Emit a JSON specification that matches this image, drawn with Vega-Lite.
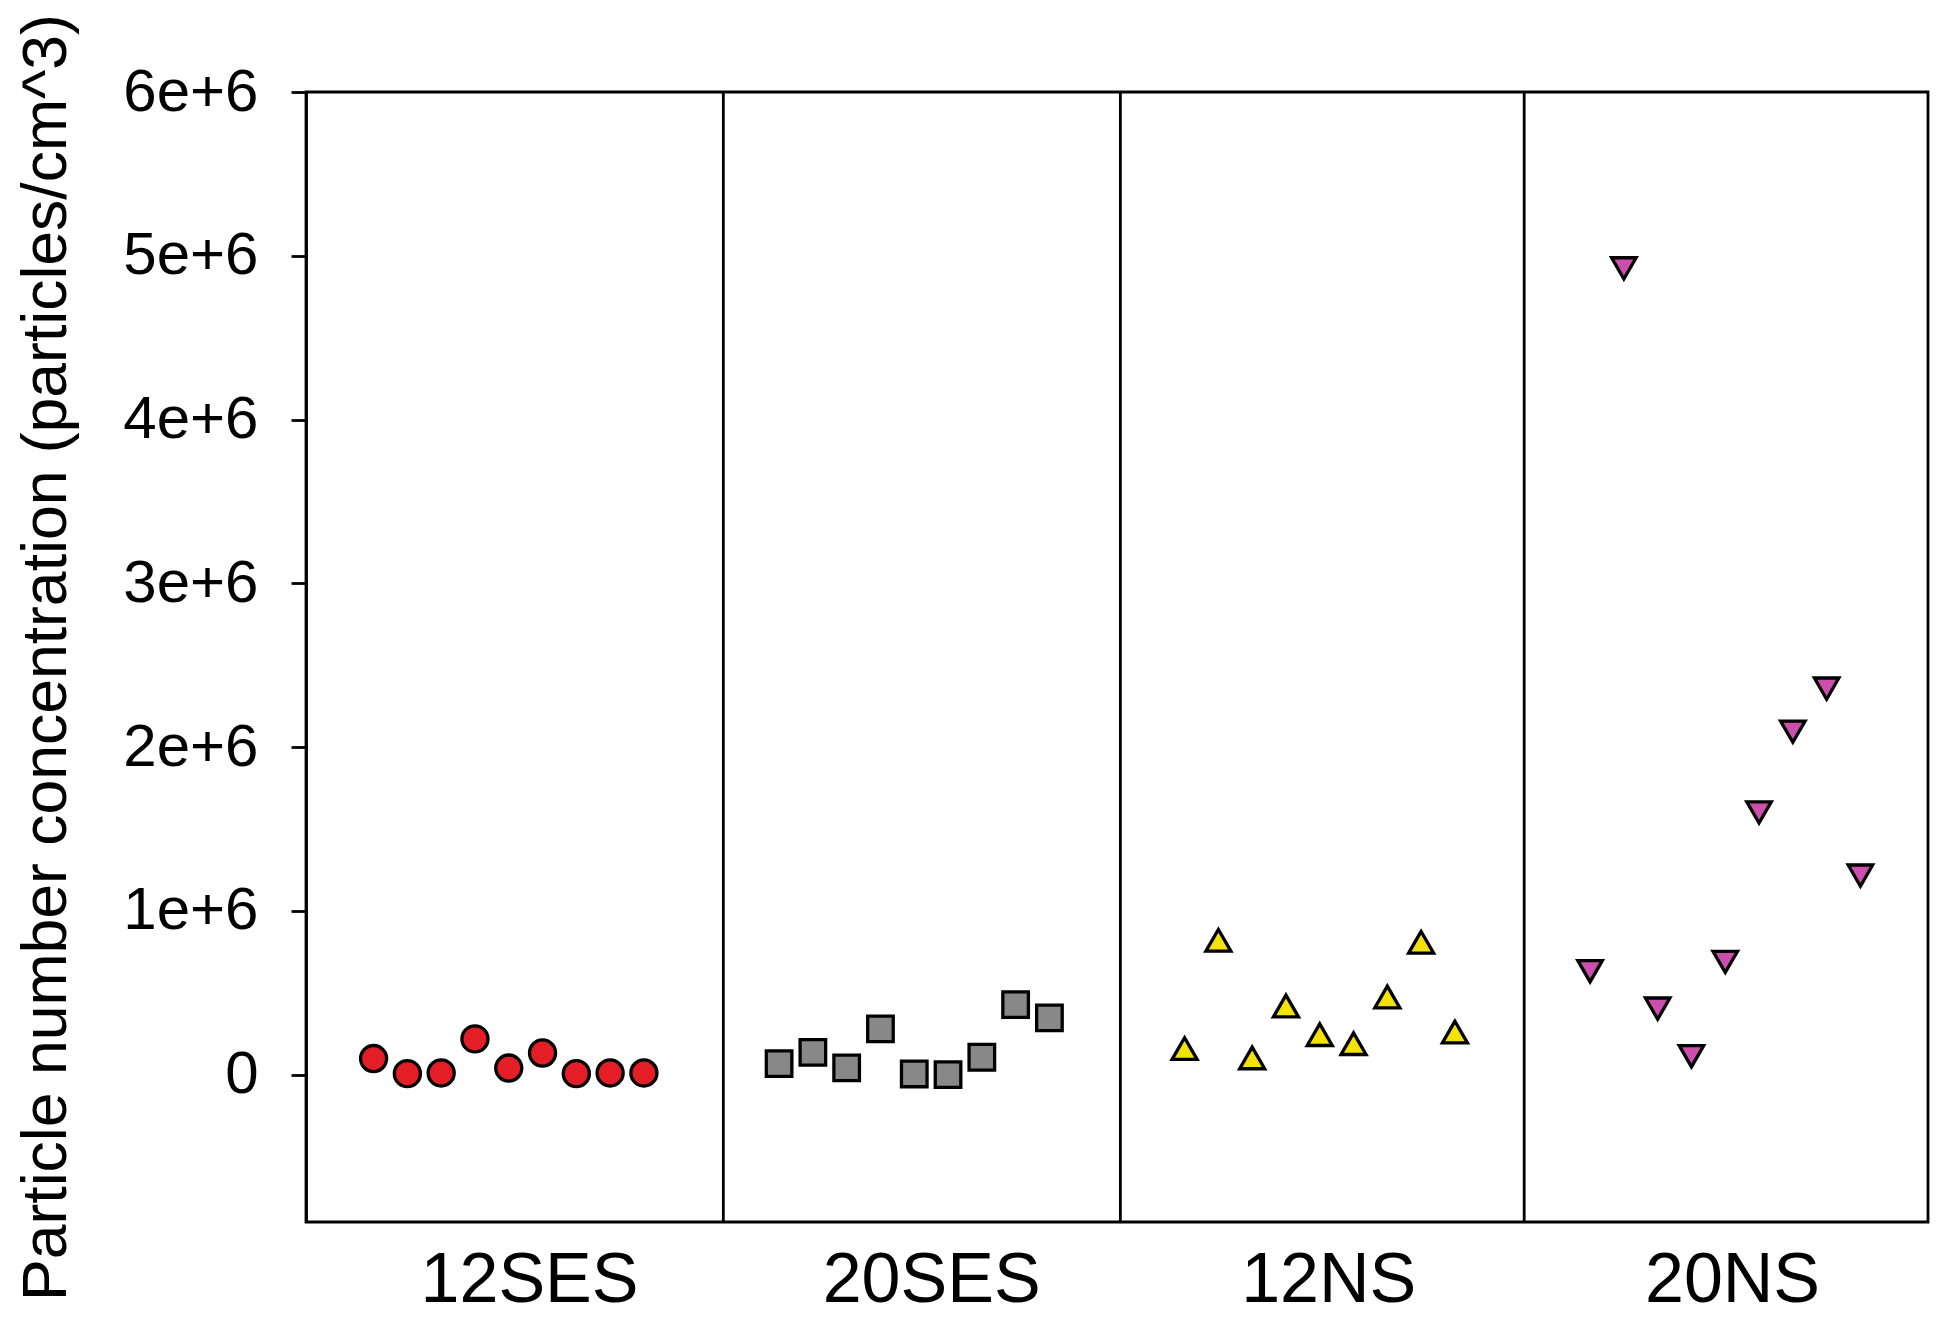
{
  "$schema": "https://vega.github.io/schema/vega-lite/v6.json",
  "width": 1622,
  "height": 1130,
  "autosize": {"type": "none"},
  "padding": {"left": 306, "top": 92, "right": 22, "bottom": 102},
  "background": "white",
  "config": {
    "view": {"stroke": "black", "strokeWidth": 2.8},
    "font": "Liberation Sans",
    "axis": {"labelFont": "Liberation Sans", "titleFont": "Liberation Sans", "labelColor": "black", "titleColor": "black", "grid": false, "domainColor": "black", "tickColor": "black", "labelLimit": 0}
  },
  "datasets": {
    "points": [
      {"group": "12SES", "idx": 2, "value": 98000},
      {"group": "12SES", "idx": 3, "value": 6000},
      {"group": "12SES", "idx": 4, "value": 10000},
      {"group": "12SES", "idx": 5, "value": 218000},
      {"group": "12SES", "idx": 6, "value": 40000},
      {"group": "12SES", "idx": 7, "value": 132000},
      {"group": "12SES", "idx": 8, "value": 6000},
      {"group": "12SES", "idx": 9, "value": 10000},
      {"group": "12SES", "idx": 10, "value": 10000},
      {"group": "20SES", "idx": 14, "value": 67000},
      {"group": "20SES", "idx": 15, "value": 136000},
      {"group": "20SES", "idx": 16, "value": 41000},
      {"group": "20SES", "idx": 17, "value": 279000},
      {"group": "20SES", "idx": 18, "value": 4000},
      {"group": "20SES", "idx": 19, "value": 0},
      {"group": "20SES", "idx": 20, "value": 106000},
      {"group": "20SES", "idx": 21, "value": 427000},
      {"group": "20SES", "idx": 22, "value": 346000},
      {"group": "12NS", "idx": 26, "value": 159000},
      {"group": "12NS", "idx": 27, "value": 820000},
      {"group": "12NS", "idx": 28, "value": 102000},
      {"group": "12NS", "idx": 29, "value": 419000},
      {"group": "12NS", "idx": 30, "value": 244000},
      {"group": "12NS", "idx": 31, "value": 189000},
      {"group": "12NS", "idx": 32, "value": 474000},
      {"group": "12NS", "idx": 33, "value": 808000},
      {"group": "12NS", "idx": 34, "value": 260000},
      {"group": "20NS", "idx": 38, "value": 631000},
      {"group": "20NS", "idx": 39, "value": 4923000},
      {"group": "20NS", "idx": 40, "value": 403000},
      {"group": "20NS", "idx": 41, "value": 112000},
      {"group": "20NS", "idx": 42, "value": 688000},
      {"group": "20NS", "idx": 43, "value": 1601000},
      {"group": "20NS", "idx": 44, "value": 2094000},
      {"group": "20NS", "idx": 45, "value": 2357000},
      {"group": "20NS", "idx": 46, "value": 1215000}
    ],
    "dividers": [
      {"pos": 12.35},
      {"pos": 24.1},
      {"pos": 36.05}
    ]
  },
  "encoding": {
    "x": {
      "type": "quantitative",
      "scale": {"domain": [0, 48], "nice": false, "zero": false},
      "axis": {
        "title": null,
        "values": [6.6, 18.5, 30.25, 42.2],
        "labelExpr": "datum.value < 12 ? '12SES' : datum.value < 24 ? '20SES' : datum.value < 36 ? '12NS' : '20NS'",
        "ticks": false,
        "domain": false,
        "labelFontSize": 70,
        "labelPadding": 24,
        "labelAlign": "center",
        "labelOverlap": false,
        "labelBound": false,
        "labelFlush": false,
        "labelLimit": 0
      }
    }
  },
  "layer": [
    {
      "data": {"name": "dividers"},
      "mark": {"type": "rule", "color": "black", "strokeWidth": 2.8},
      "encoding": {
        "x": {"field": "pos", "type": "quantitative"}
      }
    },
    {
      "data": {"name": "points"},
      "mark": {"type": "point", "filled": true, "stroke": "black", "strokeWidth": 3.3, "opacity": 1, "strokeOpacity": 1, "fillOpacity": 1},
      "encoding": {
        "x": {"field": "idx", "type": "quantitative"},
        "y": {
          "field": "value", "type": "quantitative",
          "scale": {"domain": [-900000, 6000000], "nice": false, "zero": false},
          "axis": {
            "title": "Particle number concentration (particles/cm^3)",
            "titleFontSize": 62.5,
            "titleFontWeight": "normal",
            "titlePadding": 44,
            "values": [0, 1000000, 2000000, 3000000, 4000000, 5000000, 6000000],
            "labelExpr": "datum.value === 0 ? '0' : format(datum.value / 1000000, 'd') + 'e+6'",
            "labelFontSize": 60,
            "labelPadding": 33,
            "tickSize": 15,
            "tickWidth": 2.8,
            "domainWidth": 2.8,
            "labelOverlap": false,
            "labelBound": false,
            "labelFlush": false,
            "labelLimit": 0
          }
        },
        "fill": {
          "field": "group", "type": "nominal",
          "scale": {"domain": ["12SES", "20SES", "12NS", "20NS"], "range": ["#e41e26", "#888888", "#f2e205", "#cc4fae"]},
          "legend": null
        },
        "shape": {
          "field": "group", "type": "nominal",
          "scale": {"domain": ["12SES", "20SES", "12NS", "20NS"], "range": ["circle", "square", "triangle-up", "triangle-down"]},
          "legend": null
        },
        "size": {
          "field": "group", "type": "ordinal",
          "scale": {"domain": ["12SES", "20SES", "12NS", "20NS"], "range": [680, 600, 760, 760]},
          "legend": null
        }
      }
    }
  ]
}
